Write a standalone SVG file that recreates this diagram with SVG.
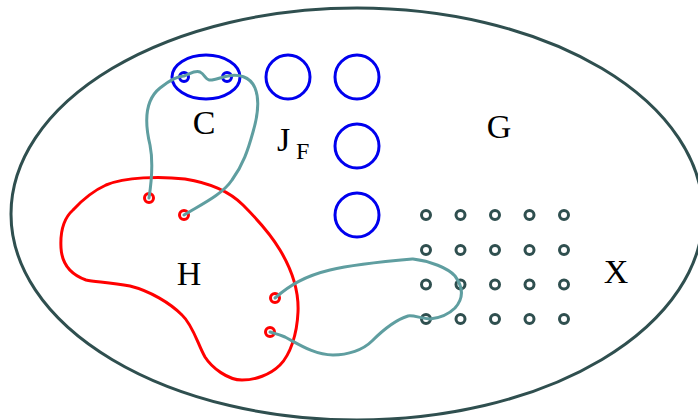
<svg xmlns="http://www.w3.org/2000/svg" width="698" height="420" viewBox="0 0 698 420">
<style>
.outer{fill:none;stroke:#2F4F4F;stroke-width:3}
.blue{fill:none;stroke:#0000EE;stroke-width:3}
.red{fill:none;stroke:#FF0000;stroke-width:3}
.rdot{fill:#fff;stroke:#FF0000;stroke-width:3}
.gdot{fill:#fff;stroke:#2F4F4F;stroke-width:3}
.wire{fill:none;stroke:#5F9EA0;stroke-width:3;stroke-linecap:round}
.lbl{font-family:"Liberation Serif","Times New Roman",serif;font-size:34px;fill:#000;text-anchor:middle}
.sub{font-family:"Liberation Serif","Times New Roman",serif;font-size:24px;fill:#000}
</style>
<rect width="698" height="420" fill="#fff"/>
<g id="G">
<ellipse class="outer" cx="357" cy="214" rx="346" ry="206"/>
<text class="lbl" x="499" y="138">G</text>
</g>
<g id="C">
<ellipse class="blue" cx="206" cy="77" rx="34" ry="22"/>
<circle class="blue" cx="184" cy="77" r="4.5"/>
<circle class="blue" cx="227" cy="77" r="4.5"/>
<text class="lbl" x="204" y="134">C</text>
</g>
<g id="JF">
<circle class="blue" cx="288" cy="77" r="22"/>
<circle class="blue" cx="357" cy="77" r="22"/>
<circle class="blue" cx="357" cy="146" r="22"/>
<circle class="blue" cx="357" cy="215" r="22"/>
<text x="277" y="151" style="font-family:'Liberation Serif','Times New Roman',serif;font-size:34px">J</text>
<text class="sub" x="296" y="159">F</text>
</g>
<g id="H">
<path class="red" d="M106,185 C125,177 160,176 185,179 C210,183 230,192 243,205 C258,220 270,233 280,250 C292,270 299,290 298,312 C297,335 290,355 280,365 C270,375 255,380 242,380 C228,380 212,368 205,357 C198,345 193,325 182,315 C170,303 150,291 130,286 C110,282 95,282 86,280 C72,275 62,265 61,248 C60,230 64,218 73,210 C85,197 95,190 106,185 Z"/>
<circle class="rdot" cx="149" cy="198" r="4.5"/>
<circle class="rdot" cx="184" cy="215" r="4.5"/>
<circle class="rdot" cx="275" cy="298" r="4.5"/>
<circle class="rdot" cx="270" cy="332" r="4.5"/>
<text class="lbl" x="189" y="285">H</text>
</g>
<g id="X">
<g>
<circle class="gdot" cx="426" cy="215" r="4.5"/><circle class="gdot" cx="460.5" cy="215" r="4.5"/><circle class="gdot" cx="495" cy="215" r="4.5"/><circle class="gdot" cx="529.5" cy="215" r="4.5"/><circle class="gdot" cx="564" cy="215" r="4.5"/>
<circle class="gdot" cx="426" cy="250" r="4.5"/><circle class="gdot" cx="460.5" cy="250" r="4.5"/><circle class="gdot" cx="495" cy="250" r="4.5"/><circle class="gdot" cx="529.5" cy="250" r="4.5"/><circle class="gdot" cx="564" cy="250" r="4.5"/>
<circle class="gdot" cx="426" cy="284.5" r="4.5"/><circle class="gdot" cx="460.5" cy="284.5" r="4.5"/><circle class="gdot" cx="495" cy="284.5" r="4.5"/><circle class="gdot" cx="529.5" cy="284.5" r="4.5"/><circle class="gdot" cx="564" cy="284.5" r="4.5"/>
<circle class="gdot" cx="426" cy="319" r="4.5"/><circle class="gdot" cx="460.5" cy="319" r="4.5"/><circle class="gdot" cx="495" cy="319" r="4.5"/><circle class="gdot" cx="529.5" cy="319" r="4.5"/><circle class="gdot" cx="564" cy="319" r="4.5"/>
</g>
<text class="lbl" x="616" y="283">X</text>
</g>
<g id="connectors">
<path class="wire" d="M149,198 C151,185 154,165 150,145 C144,120 145,100 160,88 C170,80 178,76 184,76 C190,74 195,70 200,72 C206,75 205,81 212,80 C218,79 222,77 228,76 C238,74 250,76 255,88 C260,100 258,115 253,132 C248,150 243,165 232,180 C222,195 200,205 184,215"/>
<path class="wire" d="M275,298 C290,285 305,276 330,270 C355,264 390,261 413,259 C430,261 448,268 455,276 C463,287 464,298 455,308 C448,315 440,318 430,319 C420,318 413,315 408,316 C395,320 383,330 372,341 C363,350 348,355 333,355 C315,355 300,345 285,337 C278,334 273,333 270,332"/>
</g>
</svg>
